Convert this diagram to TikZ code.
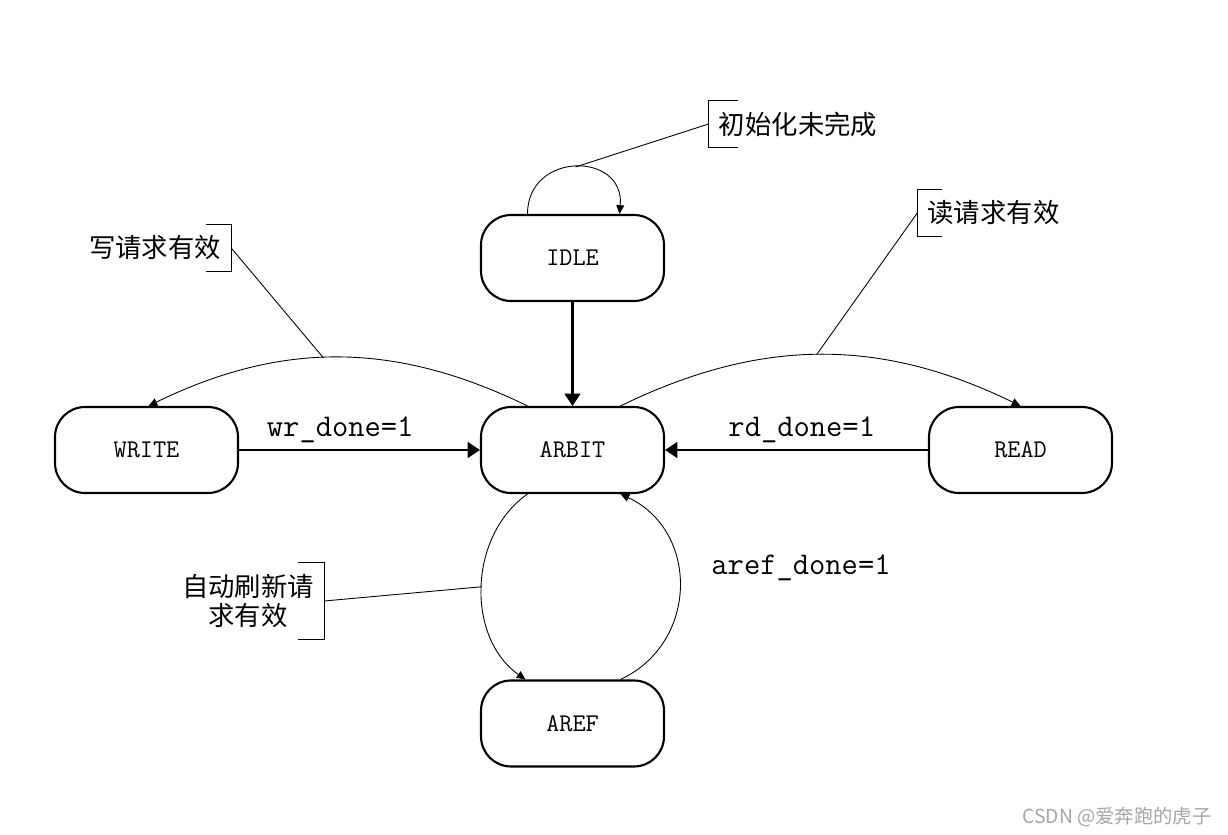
\documentclass[tikz,border=0pt]{standalone}
\usepackage{fontspec}
\newfontfamily\cjk{Noto Sans CJK SC}
\usetikzlibrary{arrows.meta,calc}

\begin{document}
\begin{tikzpicture}[x=0.02cm,y=0.02cm,
  state/.style={draw,line width=1.2pt,rounded corners=0.6cm,
    minimum width=3.66cm,minimum height=1.72cm,
    font=\ttfamily\fontsize{14.5}{17}\selectfont},
  mainArr/.style={line width=1.3pt,-{Triangle[width=9pt,length=7pt]}},
  thinArr/.style={line width=0.5pt,-{Triangle[width=4.5pt,length=5pt]}},
  cond/.style={font=\ttfamily\fontsize{18}{21}\selectfont},
  note/.style={font=\cjk\fontsize{15}{18}\selectfont,inner xsep=0.2cm,
    inner ysep=0pt,minimum height=0.92cm,align=center},
  leader/.style={line width=0.5pt}]
  \useasboundingbox (0,0) rectangle (1228,835);
  % states
  \node[state] (idle)  at (572.5,577)   {IDLE};
  \node[state] (arbit) at (572.5,385)   {ARBIT};
  \node[state] (write) at (146.5,385)   {WRITE};
  \node[state] (read)  at (1020.5,385)  {READ};
  \node[state] (aref)  at (572.5,111.5) {AREF};
  % main transitions into ARBIT
  \draw[mainArr] (idle) -- (arbit);
  \draw[mainArr] (write) -- (arbit) node[cond,pos=0.42,above=0pt] {wr\_done=1};
  \draw[mainArr] (read) -- (arbit) node[cond,pos=0.48,above=0pt] {rd\_done=1};
  % self loop on IDLE
  \draw[thinArr] ($(idle.north)+(-45,0)$) to[out=90,in=85,looseness=1.75]
    coordinate[pos=0.5] (loopTop) ($(idle.north)+(47,0)$);
  % ARBIT to WRITE / READ
  \draw[thinArr] ($(arbit.north)+(-45,0)$) to[out=154,in=26]
    coordinate[pos=0.54] (wTop) ($(write.north)+(2,0)$);
  \draw[thinArr] ($(arbit.north)+(48,0)$) to[out=26,in=154]
    coordinate[pos=0.49] (rTop) (read.north);
  % ARBIT <-> AREF
  \draw[thinArr] ($(arbit.south)+(-45,0)$) to[out=215,in=145]
    coordinate[pos=0.5] (aLeft) ($(aref.north)+(-47,0)$);
  \draw[thinArr] ($(aref.north)+(48,0)$) to[out=25,in=-25,looseness=1.2]
    ($(arbit.south)+(48,0)$);
  \node[cond] (arefDone) at (801,267) {aref\_done=1};
  % callouts
  \node[note] (cInit) at (798,711) {初始化未完成};
  \draw[leader] ($(cInit.north west)+(29,0)$) -- (cInit.north west)
    -- (cInit.south west) -- ++(29,0);
  \draw[leader] (cInit.west) -- (loopTop);
  \node[note] (cWrite) at (155,587) {写请求有效};
  \draw[leader] ($(cWrite.north east)+(-25,0)$) -- (cWrite.north east)
    -- (cWrite.south east) -- ++(-25,0);
  \draw[leader] (cWrite.east) -- (wTop);
  \node[note] (cRead) at (993.5,622) {读请求有效};
  \draw[leader] ($(cRead.north west)+(25,0)$) -- (cRead.north west)
    -- (cRead.south west) -- ++(25,0);
  \draw[leader] (cRead.west) -- (rTop);
  \node[note,minimum height=1.54cm] (cAref) at (248,234)
    {自动刷新请\\[-2pt]求有效};
  \draw[leader] ($(cAref.north east)+(-26,0)$) -- (cAref.north east)
    -- (cAref.south east) -- ++(-26,0);
  \draw[leader] (cAref.east) -- (aLeft);
  % watermark
  \node[font=\cjk\fontsize{11}{13}\selectfont,text=gray!70] (mark)
    at (1117,18) {CSDN @爱奔跑的虎子};
\end{tikzpicture}
\end{document}
